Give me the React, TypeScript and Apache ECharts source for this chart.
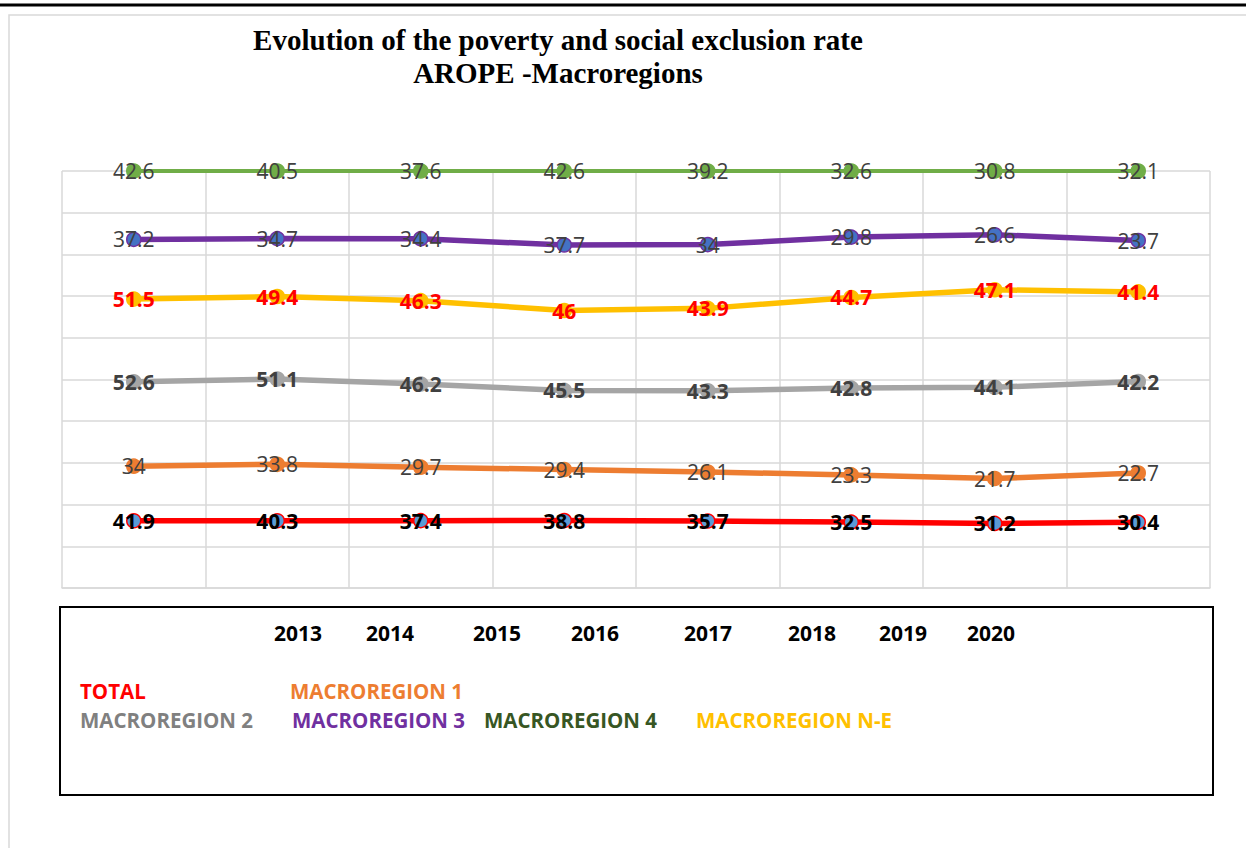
import React, { useEffect, useRef } from "react";
import * as echarts from "echarts";

// Survey years
const years = ["2013", "2014", "2015", "2016", "2017", "2018", "2019", "2020"];

// AROPE rate (%) by territory
const totalRate = [41.9, 40.3, 37.4, 38.8, 35.7, 32.5, 31.2, 30.4];
const macro1 = [34, 33.8, 29.7, 29.4, 26.1, 23.3, 21.7, 22.7];
const macro2 = [52.6, 51.1, 46.2, 45.5, 43.3, 42.8, 44.1, 42.2];
const macroNE = [51.5, 49.4, 46.3, 46, 43.9, 44.7, 47.1, 41.4];
const macro3 = [37.2, 34.7, 34.4, 37.7, 34, 29.8, 26.6, 23.7];
const macro4 = [42.6, 40.5, 37.6, 42.6, 39.2, 32.6, 30.8, 32.1];

const seriesNames = [
  "TOTAL",
  "MACROREGION 1",
  "MACROREGION 2",
  "MACROREGION N-E",
  "MACROREGION 3",
  "MACROREGION 4",
];
const seriesValues = [totalRate, macro1, macro2, macroNE, macro3, macro4];

// Visual styling per series (same order as seriesNames)
const styles = [
  { line: "#FF0000", width: 5.5, fill: "#5B9BD5", border: "#FF0000", label: "#000000", bold: true, legend: "#FF0000" },
  { line: "#ED7D31", width: 5.5, fill: "#ED7D31", border: "#ED7D31", label: "#404040", bold: false, legend: "#ED7D31" },
  { line: "#A5A5A5", width: 5.5, fill: "#A5A5A5", border: "#A5A5A5", label: "#404040", bold: true, legend: "#808080" },
  { line: "#FFC000", width: 5.5, fill: "#FFC000", border: "#FFC000", label: "#FF0000", bold: true, legend: "#FFC000" },
  { line: "#7030A0", width: 5.5, fill: "#4472C4", border: "#7030A0", label: "#404040", bold: false, legend: "#7030A0" },
  { line: "#70AD47", width: 4, fill: "#70AD47", border: "#70AD47", label: "#404040", bold: false, legend: "#375623" },
];

// Legend text placement inside the bottom box
const legendPos = [
  [80, 691],
  [290, 691],
  [80, 720],
  [696, 720],
  [292, 720],
  [484, 720],
];
// Year label placement inside the bottom box
const yearX = [298, 390, 497, 595, 708, 812, 903, 991];

const FONT = "'Open Sans', 'Noto Sans', sans-serif";
const SERIF = "'Liberation Serif', 'Times New Roman', serif";

export default function App() {
  const ref = useRef<HTMLDivElement>(null);

  useEffect(() => {
    if (!ref.current) return;
    const chart = echarts.init(ref.current, undefined, { renderer: "svg" });

    // 100% stacked: each value as share of the year's column total
    const totals = years.map((_, i) =>
      seriesValues.reduce((s, arr) => s + arr[i], 0)
    );

    const series = seriesNames.map((name, k) => {
      const st = styles[k];
      const raw = seriesValues[k];
      return {
        name,
        type: "line",
        stack: "share",
        data: raw.map((v, i) => (v / totals[i]) * 100),
        symbol: "circle",
        symbolSize: 14,
        lineStyle: { color: st.line, width: st.width },
        itemStyle: { color: st.fill, borderColor: st.border, borderWidth: 1.5 },
        label: {
          show: true,
          position: "inside",
          formatter: (p: any) => String(raw[p.dataIndex]),
          color: st.label,
          fontFamily: FONT,
          fontSize: 21,
          fontWeight: st.bold ? "bold" : "normal",
        },
        z: 2 + k,
      };
    });

    const graphic: any[] = [
      // page frame
      {
        type: "rect",
        shape: { x: 9, y: 15, width: 1400, height: 1000 },
        style: { fill: "none", stroke: "#D9D9D9", lineWidth: 1.5 },
        silent: true,
        z: -10,
      },
      {
        type: "line",
        shape: { x1: 0, y1: 5, x2: 1246, y2: 5 },
        style: { stroke: "#000000", lineWidth: 3 },
        silent: true,
      },
      {
        type: "text",
        x: 558,
        y: 40,
        style: {
          text: "Evolution of the poverty and social exclusion rate",
          font: `bold 29px ${SERIF}`,
          fill: "#000000",
          align: "center",
          verticalAlign: "middle",
        },
      },
      {
        type: "text",
        x: 558,
        y: 73,
        style: {
          text: "AROPE -Macroregions",
          font: `bold 29px ${SERIF}`,
          fill: "#000000",
          align: "center",
          verticalAlign: "middle",
        },
      },
      // legend box
      {
        type: "rect",
        shape: { x: 60, y: 607, width: 1153, height: 188 },
        style: { fill: "#FFFFFF", stroke: "#000000", lineWidth: 2 },
        silent: true,
      },
      ...years.map((y, i) => ({
        type: "text",
        x: yearX[i],
        y: 633,
        style: {
          text: y,
          font: `bold 21px ${FONT}`,
          fill: "#000000",
          align: "center",
          verticalAlign: "middle",
        },
      })),
      ...seriesNames.map((name, k) => ({
        type: "text",
        x: legendPos[k][0],
        y: legendPos[k][1],
        style: {
          text: name,
          font: `bold 20.5px ${FONT}`,
          fill: styles[k].legend,
          align: "left",
          verticalAlign: "middle",
        },
      })),
    ];

    chart.setOption({
      animation: false,
      backgroundColor: "#FFFFFF",
      grid: { left: 62, right: 36, top: 171, bottom: 260 },
      xAxis: {
        type: "category",
        data: years,
        boundaryGap: true,
        axisLabel: { show: false },
        axisTick: { show: false },
        axisLine: { show: true, lineStyle: { color: "#D9D9D9", width: 1.5 } },
        splitLine: { show: true, lineStyle: { color: "#D9D9D9", width: 1.5 } },
      },
      yAxis: {
        type: "value",
        min: 0,
        max: 100,
        interval: 10,
        axisLabel: { show: false },
        axisTick: { show: false },
        axisLine: { show: false },
        splitLine: { show: true, lineStyle: { color: "#D9D9D9", width: 1.5 } },
      },
      series,
      graphic,
    });

    return () => chart.dispose();
  }, []);

  return (
    <div
      ref={ref}
      style={{ position: "fixed", left: 0, top: 0, width: 1246, height: 848 }}
    />
  );
}
